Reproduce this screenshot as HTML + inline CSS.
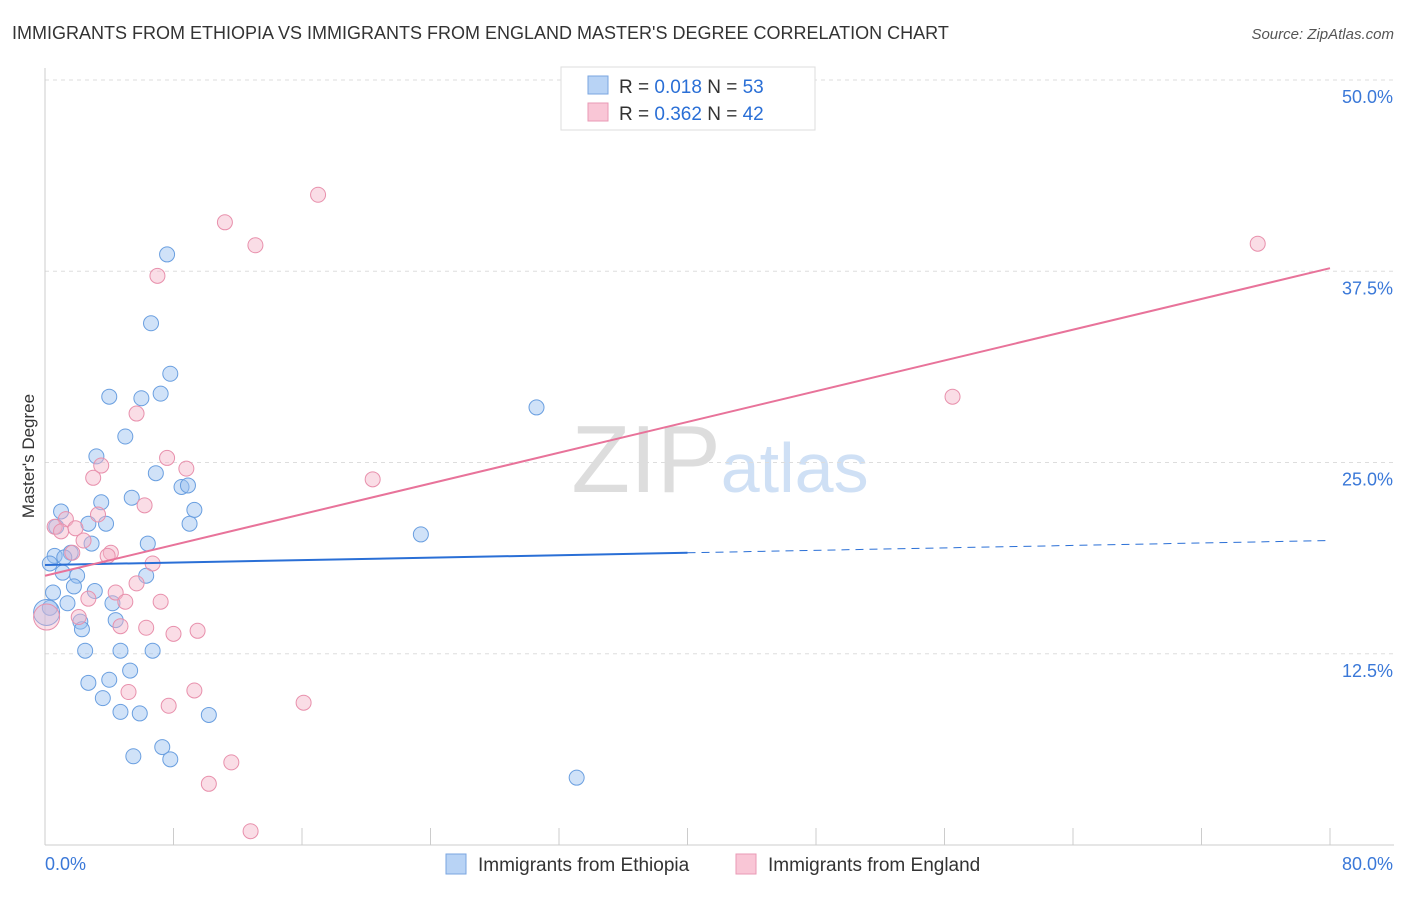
<!DOCTYPE html>
<html><head><meta charset="utf-8"><style>
body{margin:0;background:#fff;font-family:"Liberation Sans",sans-serif;}
svg text{font-family:"Liberation Sans",sans-serif;}
</style></head><body>
<svg id="chart" width="1406" height="892" xmlns="http://www.w3.org/2000/svg">
<text x="12" y="39" font-size="18" fill="#333">IMMIGRANTS FROM ETHIOPIA VS IMMIGRANTS FROM ENGLAND MASTER'S DEGREE CORRELATION CHART</text>
<text x="1394" y="39" font-size="15" fill="#555" font-style="italic" text-anchor="end">Source: ZipAtlas.com</text>
<text x="720" y="492" font-size="96" fill="#ddd" text-anchor="middle" font-family="Liberation Serif">ZIP<tspan fill="#cfe0f5" font-family="Liberation Sans" font-size="70">atlas</tspan></text>
<text x="34" y="456" font-size="17" fill="#333" text-anchor="middle" transform="rotate(-90 34 456)">Master's Degree</text>
<g id="grid"></g><g id="axes"></g><g id="pts"></g><g id="lines"></g>
<g>
<rect x="561" y="67" width="254" height="63" fill="#fff" stroke="#ddd"/>
<rect x="588" y="76" width="20" height="18" fill="#b8d3f5" stroke="#7aa6e0"/>
<rect x="588" y="103" width="20" height="18" fill="#f9c6d6" stroke="#e99ab5"/>
<text x="619" y="93" font-size="19" fill="#333">R = <tspan fill="#2a6fd6">0.018</tspan>   N = <tspan fill="#2a6fd6">53</tspan></text>
<text x="619" y="120" font-size="19" fill="#333">R = <tspan fill="#2a6fd6">0.362</tspan>   N = <tspan fill="#2a6fd6">42</tspan></text>
</g>
<g>
<rect x="446" y="854" width="20" height="20" fill="#b8d3f5" stroke="#7aa6e0"/>
<text x="478" y="871" font-size="19" fill="#333">Immigrants from Ethiopia</text>
<rect x="736" y="854" width="20" height="20" fill="#f9c6d6" stroke="#e99ab5"/>
<text x="768" y="871" font-size="19" fill="#333">Immigrants from England</text>
</g>
</svg>
<script>
const xTicks=[0,8,16,24,32,40,48,56,64,72,80];
const yTicks=[12.5,25,37.5,50];
const yTickLabels=["12.5%","25.0%","37.5%","50.0%"];
const ethX=[7.6,6.6,7.8,4.0,6.0,7.2,30.6,5.0,3.2,6.9,8.5,8.9,5.4,3.5,1.0,9.3,2.7,3.8,0.7,9.0,23.4,2.9,6.4,0.6,1.6,1.2,0.3,1.1,2.0,6.3,1.8,0.5,3.1,1.4,4.2,0.3,2.2,4.4,2.3,2.5,4.7,6.7,5.3,2.7,4.0,3.6,4.7,5.9,10.2,7.3,5.5,7.8,33.1];
const ethY=[38.6,34.1,30.8,29.3,29.2,29.5,28.6,26.7,25.4,24.3,23.4,23.5,22.7,22.4,21.8,21.9,21.0,21.0,20.8,21.0,20.3,19.7,19.7,18.9,19.1,18.8,18.4,17.8,17.6,17.6,16.9,16.5,16.6,15.8,15.8,15.5,14.6,14.7,14.1,12.7,12.7,12.7,11.4,10.6,10.8,9.6,8.7,8.6,8.5,6.4,5.8,5.6,4.4];
const engX=[17.0,11.2,13.1,75.5,7.0,56.5,5.7,7.6,3.5,8.8,20.4,3.0,6.2,3.3,1.3,0.6,1.9,1.0,2.4,4.1,3.9,1.7,6.7,5.7,4.4,2.7,5.0,7.2,2.1,4.7,6.3,8.0,9.5,5.2,9.3,7.7,16.1,11.6,10.2,12.8];
const engY=[42.5,40.7,39.2,39.3,37.2,29.3,28.2,25.3,24.8,24.6,23.9,24.0,22.2,21.6,21.3,20.8,20.7,20.5,19.9,19.1,18.9,19.1,18.4,17.1,16.5,16.1,15.9,15.9,14.9,14.3,14.2,13.8,14.0,10.0,10.1,9.1,9.3,5.4,4.0,0.9];
const ethTrend=[18.3,19.9];
const engTrend=[17.6,37.7];
const X=v=>45+v/80*1285, Y=v=>845-v*15.3;
const NS="http://www.w3.org/2000/svg";
function mk(tag,attrs,parent){const e=document.createElementNS(NS,tag);for(const k in attrs)e.setAttribute(k,attrs[k]);document.getElementById(parent).appendChild(e);return e;}
yTicks.forEach((t,i)=>{
 const g=mk('line',{x1:45,x2:1394,y1:Y(t),y2:Y(t),stroke:'#ddd','stroke-dasharray':'4,4'},'grid');
 
 
 const l=mk('text',{x:1393,y:Y(t)+23,'font-size':18,fill:'#3a78d8','text-anchor':'end'},'grid');
 l.textContent=yTickLabels[i];
 
 
});
const ax=mk('line',{x1:45,x2:1394,y1:845,y2:845,stroke:'#ccc'},'axes');


const ay=mk('line',{x1:45,x2:45,y1:68,y2:845,stroke:'#ccc'},'axes');


xTicks.forEach(t=>{
 const tk=mk('line',{x1:X(t),x2:X(t),y1:828,y2:845,stroke:'#ccc'},'axes');
 
 
});
const xl0=mk('text',{x:45,y:870,'font-size':18,fill:'#3a78d8'},'axes');xl0.textContent=xTicks[0].toFixed(1)+'%';


const xl1=mk('text',{x:1393,y:870,'font-size':18,fill:'#3a78d8','text-anchor':'end'},'axes');xl1.textContent=xTicks[xTicks.length-1].toFixed(1)+'%';


ethX.forEach((v,i)=>{
 const c=mk('circle',{cx:X(v),cy:Y(ethY[i]),r:7.5,fill:'rgba(150,190,240,0.45)',stroke:'#6a9fe0','stroke-width':1},'pts');
 
 
});
engX.forEach((v,i)=>{
 const c=mk('circle',{cx:X(v),cy:Y(engY[i]),r:7.5,fill:'rgba(245,180,200,0.45)',stroke:'#e890ac','stroke-width':1},'pts');
 
 
});
const b1=mk('circle',{cx:X(0.1),cy:Y(15.2),r:13,fill:'rgba(150,190,240,0.4)',stroke:'#6a9fe0'},'pts');


const b2=mk('circle',{cx:X(0.1),cy:Y(14.9),r:13,fill:'rgba(245,180,200,0.4)',stroke:'#e890ac'},'pts');


const ey=v=>ethTrend[0]+(ethTrend[1]-ethTrend[0])*v/80;
const l1=mk('line',{x1:X(0),y1:Y(ey(0)),x2:X(40),y2:Y(ey(40)),stroke:'#2a6fd6','stroke-width':2},'lines');


const l2=mk('line',{x1:X(40),y1:Y(ey(40)),x2:X(80),y2:Y(ey(80)),stroke:'#2a6fd6','stroke-width':1,'stroke-dasharray':'8,6'},'lines');


const l3=mk('line',{x1:X(0),y1:Y(engTrend[0]),x2:X(80),y2:Y(engTrend[1]),stroke:'#e8739a','stroke-width':2},'lines');


</script>
</body></html>
